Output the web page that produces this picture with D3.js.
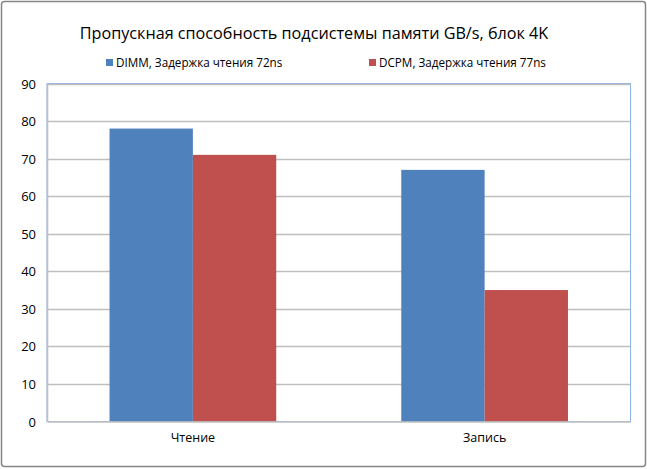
<!DOCTYPE html>
<html>
<head>
<meta charset="utf-8">
<script src="https://cdn.jsdelivr.net/npm/d3@7"></script>
<style>
  body { margin: 0; background: #fff; }
  text { font-family: "Open Sans", "Noto Sans", sans-serif; fill: #000; }
</style>
</head>
<body>
<div id="chart"></div>
<script>
// chart data
var categories = ["Чтение", "Запись"];
var seriesNames = ["DIMM, Задержка чтения 72ns", "DCPM, Задержка чтения 77ns"];
var dimmValues = [78, 67];
var dcpmValues = [71, 35];
var yTicks = [0, 10, 20, 30, 40, 50, 60, 70, 80, 90];
var titleText = "Пропускная способность подсистемы памяти GB/s, блок 4K";

var colors = ["#4f81bd", "#c0504d"];
var W = 647, H = 469;
var plot = {left: 47, top: 83.5, right: 630.5, bottom: 421.5};

var svg = d3.select("#chart").append("svg")
    .attr("width", W)
    .attr("height", H);

// outer frame
svg.append("rect")
    .attr("x", 1.5).attr("y", 1.5)
    .attr("width", W - 3).attr("height", H - 4)
    .attr("rx", 3)
    .attr("fill", "#fff")
    .attr("stroke", "#868686")
    .attr("stroke-width", 1.5);

svg.append("text")
    .attr("x", 314).attr("y", 38.5)
    .attr("text-anchor", "middle")
    .style("font-size", "16.2px")
    .text(titleText);

var y = d3.scaleLinear().domain([0, 90]).range([plot.bottom, plot.top]);
var x0 = d3.scaleBand().domain(categories).range([plot.left, plot.right]).padding(0);
var x1 = d3.scaleBand().domain([0, 1]).range([0, x0.bandwidth()])
    .paddingInner(0).paddingOuter(0.75);

// plot area border (light blue)
svg.append("rect")
    .attr("x", plot.left).attr("y", plot.top)
    .attr("width", plot.right - plot.left).attr("height", plot.bottom - plot.top)
    .attr("fill", "none")
    .attr("stroke", "#8eb4e3")
    .attr("stroke-width", 1);

// gridlines
svg.append("g").selectAll("line")
    .data(yTicks.filter(function(d){ return d > 0; }))
    .enter().append("line")
    .attr("x1", plot.left).attr("x2", plot.right)
    .attr("y1", function(d){ return Math.round(y(d)) + 0.5; })
    .attr("y2", function(d){ return Math.round(y(d)) + 0.5; })
    .attr("stroke", "#bfbfbf")
    .attr("stroke-width", 1.6);

// bars
var rows = categories.map(function(c, i){ return {cat: c, vals: [dimmValues[i], dcpmValues[i]]}; });
var groups = svg.append("g").selectAll("g")
    .data(rows).enter().append("g")
    .attr("transform", function(d){ return "translate(" + x0(d.cat) + ",0)"; });

groups.selectAll("rect")
    .data(function(d){ return d.vals.map(function(v, k){ return {k: k, v: v}; }); })
    .enter().append("rect")
    .attr("x", function(d){ return x1(d.k); })
    .attr("width", x1.bandwidth())
    .attr("y", function(d){ return y(d.v); })
    .attr("height", function(d){ return y(0) - y(d.v); })
    .attr("fill", function(d){ return colors[d.k]; });

// y axis
var yAxis = svg.append("g")
    .attr("transform", "translate(" + plot.left + ",0)")
    .call(d3.axisLeft(y).tickValues(yTicks).tickSize(0).tickPadding(11));
yAxis.select(".domain").attr("stroke", "#bfbfbf").attr("stroke-width", 1.6);
yAxis.selectAll("text").style("font-size", "13px").attr("dy", "0.35em");

// x axis
var xAxis = svg.append("g")
    .attr("transform", "translate(0," + plot.bottom + ")")
    .call(d3.axisBottom(x0).tickSize(0).tickPadding(12));
xAxis.select(".domain").attr("stroke", "#bfbfbf").attr("stroke-width", 1.6);
xAxis.selectAll("text").style("font-size", "12.5px");

// legend
var legendX = [106, 369];
var legend = svg.append("g").selectAll("g")
    .data(seriesNames).enter().append("g")
    .attr("transform", function(d, i){ return "translate(" + legendX[i] + ",59)"; });
legend.append("rect")
    .attr("width", 7).attr("height", 7)
    .attr("fill", function(d, i){ return colors[i]; });
legend.append("text")
    .attr("x", 10).attr("y", 7.5)
    .style("font-size", "11.7px")
    .text(function(d){ return d; });
</script>
</body>
</html>
